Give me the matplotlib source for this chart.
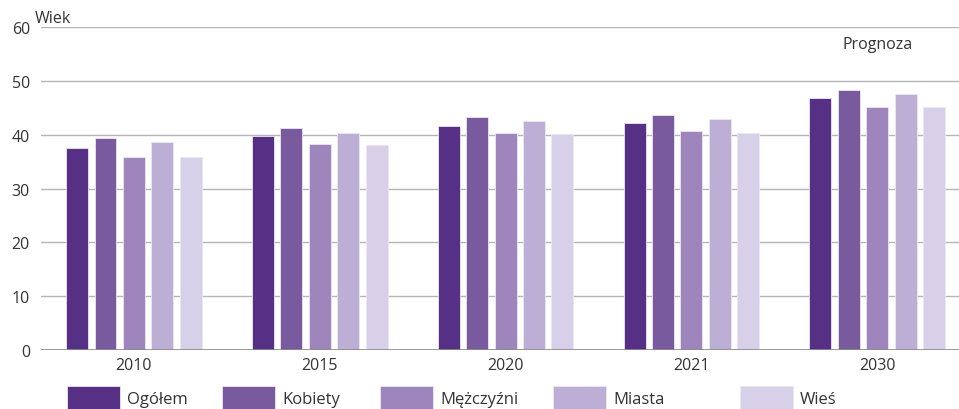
import matplotlib
matplotlib.use("Agg")
import matplotlib.pyplot as plt
from matplotlib.patches import Rectangle
import numpy as np

plt.rcParams['font.family'] = ['Open Sans', 'DejaVu Sans']

years = ['2010', '2015', '2020', '2021', '2030']
series = ['Ogółem', 'Kobiety', 'Mężczyźni', 'Miasta', 'Wieś']
ogolem = [37.5, 39.7, 41.7, 42.2, 46.8]
kobiety = [39.3, 41.2, 43.2, 43.7, 48.3]
mezczyzni = [35.9, 38.2, 40.3, 40.6, 45.1]
miasta = [38.6, 40.4, 42.5, 43.0, 47.6]
wies = [35.9, 38.1, 40.1, 40.4, 45.2]
values = [ogolem, kobiety, mezczyzni, miasta, wies]
colors = ['#553085', '#7a5a9f', '#9e86bc', '#bcaed4', '#d8d0e8']

fig = plt.figure(figsize=(9.59, 4.10), dpi=100)
ax = fig.add_axes([0.0428, 0.1439, 0.9572, 0.7878])

x = np.arange(len(years))
step = 0.153
w = 0.118
for i, (vals, c) in enumerate(zip(values, colors)):
    ax.bar(x + (i - 2) * step, vals, width=w, color=c, edgecolor='#ece6f4',
           linewidth=0.6, zorder=3)

ax.set_xlim(-0.5, 4.44)
ax.set_ylim(0, 60)
ax.set_yticks(range(0, 61, 10))
ax.yaxis.grid(True, color='#b5b5b5', linewidth=1.0, zorder=0)
ax.axhline(0, color='#8a8a8a', linewidth=1.2, zorder=4)
ax.set_xticks(x)
ax.set_xticklabels(years)
ax.tick_params(axis='both', length=0, labelsize=11.5, colors='#333333')
ax.tick_params(axis='y', pad=8)
ax.tick_params(axis='x', pad=5)
for s in ax.spines.values():
    s.set_visible(False)

ax.text(-0.0065, 1.004, 'Wiek', transform=ax.transAxes, fontsize=11.5,
        color='#333333', ha='left', va='bottom')
ax.text(x[4], 56.8, 'Prognoza', fontsize=11.5, color='#333333',
        ha='center', va='center')

# legend drawn by hand along the bottom edge
W, H = 959, 410
starts = [67, 222, 380, 553, 740]
for s0, lab, c in zip(starts, series, colors):
    fig.add_artist(Rectangle((s0 / W, 0), 53 / W, 23 / H, transform=fig.transFigure,
                             facecolor=c, edgecolor='#ece6f4', linewidth=0.6))
    fig.text((s0 + 60) / W, 10 / H, lab, fontsize=12, color='#333333',
             ha='left', va='center')

fig.savefig('out.png', dpi=100)
